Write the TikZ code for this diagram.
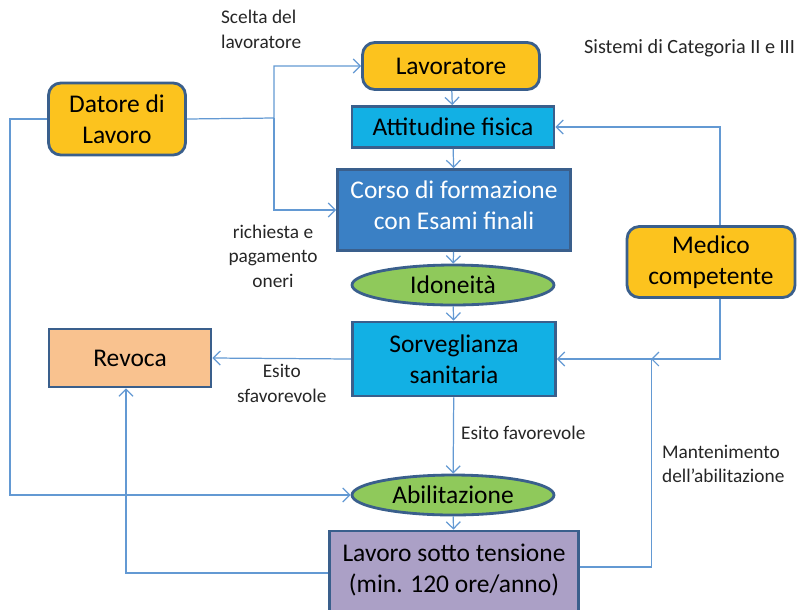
\documentclass[tikz,border=0pt]{standalone}
\usepackage{fontspec}
\setmainfont{Carlito}
\usetikzlibrary{shapes.geometric,arrows.meta}

\definecolor{boxline}{HTML}{3A5F8C}
\definecolor{flowblue}{HTML}{6399D3}
\definecolor{yellowfill}{HTML}{FCC31E}
\definecolor{cyanfill}{HTML}{12B0E4}
\definecolor{bluefill}{HTML}{3A80C5}
\definecolor{greenfill}{HTML}{8FC95B}
\definecolor{orangefill}{HTML}{F9C28F}
\definecolor{purplefill}{HTML}{ABA0C6}

\begin{document}
\begin{tikzpicture}[
        x=0.02cm, y=-0.02cm,
        % Stili dei nodi
        basebox/.style={draw=boxline, line width=1.6pt, align=center, inner sep=2pt,
            font=\fontsize{14.5}{17.5}\selectfont},
        yellowbox/.style={basebox, rounded corners=7pt, fill=yellowfill},
        cyanbox/.style={basebox, rectangle, fill=cyanfill},
        bluebox/.style={basebox, rectangle, fill=bluefill, text=white},
        greenoval/.style={basebox, ellipse, fill=greenfill, minimum width=4.04cm, minimum height=0.8cm},
        orangebox/.style={basebox, rectangle, fill=orangefill},
        purplebox/.style={basebox, rectangle, fill=purplefill},
        note/.style={font=\fontsize{11}{14}\selectfont, text=black!85, inner sep=1pt},
        % Stile delle frecce
        flow/.style={-{Straight Barb[length=4pt,width=8pt]}, draw=flowblue, line width=0.7pt}
    ]
    \useasboundingbox (0,0) rectangle (800,609);

    % Colonna centrale
    \node[yellowbox, minimum width=3.54cm, minimum height=0.94cm] (lav) at (451,66) {Lavoratore};
    \node[cyanbox, minimum width=4.04cm, minimum height=0.82cm] (att) at (453,127) {Attitudine fisica};
    \node[bluebox, minimum width=4.66cm, minimum height=1.62cm] (corso) at (454,210) {\raisebox{0.04cm}[\height][\depth]{\begin{tabular}{@{}c@{}}Corso di formazione\\con Esami finali\end{tabular}}};
    \node[greenoval] (idon) at (453,285) {Idoneità};
    \node[cyanbox, minimum width=4.06cm, minimum height=1.48cm] (sorv) at (454,359) {Sorveglianza\\sanitaria};
    \node[greenoval] (abil) at (453,495) {Abilitazione};
    \node[purplebox, minimum width=4.98cm, minimum height=1.72cm] (lst) at (454,574) {\raisebox{0.07cm}[\height][\depth]{\begin{tabular}{@{}c@{}}Lavoro sotto tensione\\(min. 120 ore/anno)\end{tabular}}};
    \coordinate (lstmid) at (454,567);

    % Nodi laterali
    \node[yellowbox, minimum width=2.74cm, minimum height=1.44cm] (dat) at (117,119) {Datore di\\Lavoro};
    \node[yellowbox, minimum width=3.36cm, minimum height=1.42cm] (med) at (711,262) {Medico\\competente};
    \node[orangebox, minimum width=3.24cm, minimum height=1.16cm] (rev) at (130,358) {Revoca};

    % Titolo
    \node[note, anchor=west, font=\fontsize{11.5}{14}\selectfont] (title) at (582,48) {Sistemi di Categoria II e III};

    % Flusso principale
    \draw[flow] (lav) -- (att);
    \draw[flow] (att) -- (corso);
    \draw[flow] (corso) -- (idon);
    \draw[flow] (idon) -- (sorv);
    \draw[flow] (sorv) -- node[note, right, xshift=3pt, pos=0.46] (fav) {Esito favorevole} (abil);
    \draw[flow] (abil) -- (lst);

    % Datore di lavoro
    \coordinate (fork) at (274,118);
    \draw[flow] (dat.east) -- (fork) |- (lav.west);
    \draw[flow] (fork) |- (corso.west);
    \draw[flow] (dat.west) -- ++(-37,0) |- (abil.west);
    \node[note, anchor=north west, align=left] (scelta) at (219,8) {Scelta del\\lavoratore};
    \node[note, align=center] (oneri) at (273,256) {richiesta e\\pagamento\\oneri};

    % Medico competente
    \draw[flow] ([xshift=0.18cm]med.north) |- (att.east);
    \draw[flow] ([xshift=0.18cm]med.south) |- (sorv.east);

    % Mantenimento e revoca
    \coordinate (mant) at (651,359);
    \draw[flow] (lstmid -| lst.east) -| ([xshift=0.4pt]mant) -- (mant);
    \node[note, anchor=west, align=left] (mantlbl) at (660,464) {Mantenimento\\dell’abilitazione};
    \draw[flow] (sorv.west) -- node[note, below, align=center, yshift=-2pt] (sfav) {Esito\\sfavorevole} (rev.east);
    \draw[flow] ([yshift=-0.12cm]lstmid -| lst.west) -| ([xshift=-0.08cm]rev.south);

\end{tikzpicture}
\end{document}
